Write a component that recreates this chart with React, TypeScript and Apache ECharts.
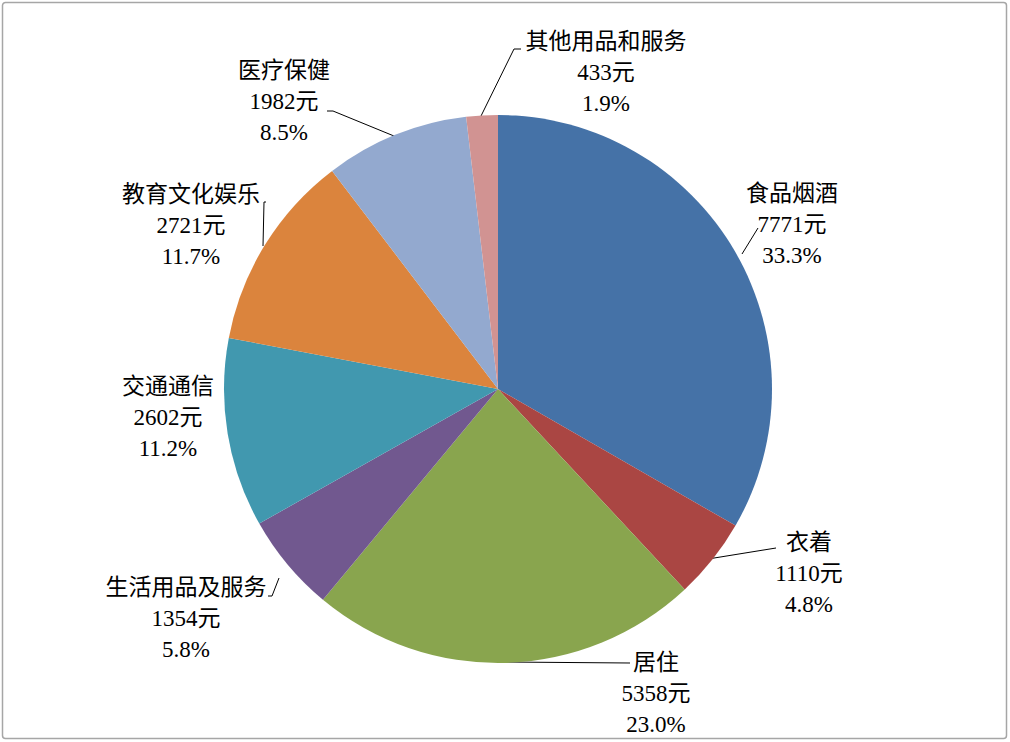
import React, { useEffect, useRef } from "react";
import * as echarts from "echarts";

const categories = ["食品烟酒", "衣着", "居住", "生活用品及服务", "交通通信", "教育文化娱乐", "医疗保健", "其他用品和服务"];
const values = [7771, 1110, 5358, 1354, 2602, 2721, 1982, 433];
const percents = ["33.3%", "4.8%", "23.0%", "5.8%", "11.2%", "11.7%", "8.5%", "1.9%"];
const colors = ["#4572A7", "#AA4643", "#89A54E", "#71588F", "#4198AF", "#DB843D", "#93A9CF", "#D19392"];

// label placement (centre of the label block) and leader line points
const labelPos: [number, number][] = [
  [792, 224], [809, 573], [656, 693], [186, 618], [168, 417], [191, 225], [284, 101], [606, 72],
];
const linePts: number[][][] = [
  [[742, 254], [758, 228]],
  [[708, 559], [776, 548]],
  [[505, 662], [630, 663]],
  [[279, 578], [272, 596], [268, 596]],
  [],
  [[263, 246], [264, 202], [266, 202]],
  [[394, 136], [333, 111], [327, 111]],
  [[481, 116], [514, 49], [521, 49]],
];

export default function App() {
  const ref = useRef<HTMLDivElement>(null);
  useEffect(() => {
    const chart = echarts.init(ref.current!, undefined, { renderer: "svg" });
    chart.setOption({
      animation: false,
      backgroundColor: "#ffffff",
      graphic: [
        {
          type: "rect",
          shape: { x: 2.5, y: 2.5, width: 1004, height: 736, r: 3 },
          style: { fill: "none", stroke: "#a6a6a6", lineWidth: 1.5 },
          silent: true,
        },
      ],
      series: [
        {
          type: "pie",
          center: [498, 389],
          radius: 274,
          startAngle: 90,
          clockwise: true,
          data: categories.map((c, i) => ({ name: c, value: values[i], itemStyle: { color: colors[i] } })),
          label: {
            show: true,
            formatter: (p: any) => `${p.name}\n${p.value}元\n${percents[p.dataIndex]}`,
            fontFamily: "'Liberation Serif', 'Noto Sans CJK SC', serif",
            fontSize: 23,
            lineHeight: 31,
            color: "#000",
            align: "center",
          },
          labelLine: {
            show: true,
            lineStyle: { color: "#000", width: 1 },
          },
          labelLayout: (params: any) => {
            const i = params.dataIndex;
            const pts = linePts[i];
            const res: any = {
              x: labelPos[i][0],
              y: labelPos[i][1],
              align: "center",
              verticalAlign: "middle",
            };
            if (pts.length) {
              res.labelLinePoints = pts.length === 2 ? [pts[0], pts[1], pts[1]] : pts;
            } else {
              res.labelLinePoints = [[0, 0], [0, 0], [0, 0]];
            }
            return res;
          },
          emphasis: { disabled: true },
        },
      ],
    });
    return () => chart.dispose();
  }, []);
  return <div ref={ref} style={{ position: "fixed", left: 0, top: 0, width: 1010, height: 742 }} />;
}
